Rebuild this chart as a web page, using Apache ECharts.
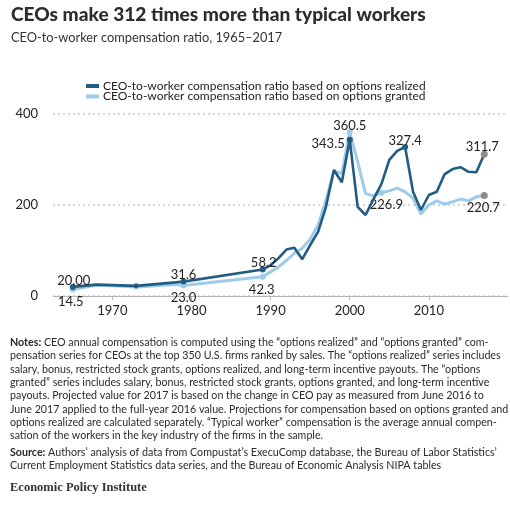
<!DOCTYPE html>
<html>
<head>
<meta charset="utf-8">
<script src="https://cdn.jsdelivr.net/npm/echarts@6/dist/echarts.min.js"></script>
<style>
  html, body { margin: 0; padding: 0; background: #fff; }
  #chart { width: 510px; height: 506px; }
</style>
</head>
<body>
<div id="chart"></div>
<script>
// years with data (early years are sparse, annual from 1989)
const years = [1965, 1968, 1973, 1978, 1979,
  1989, 1990, 1991, 1992, 1993, 1994, 1995, 1996, 1997, 1998, 1999,
  2000, 2001, 2002, 2003, 2004, 2005, 2006, 2007, 2008, 2009,
  2010, 2011, 2012, 2013, 2014, 2015, 2016, 2017];
// options realized
const realized = [20.0, 25, 22.3, 30, 31.6,
  58.2, 68, 83, 102, 106, 81, 112, 141, 196, 277, 250,
  343.5, 196, 178, 213, 246, 299, 319, 327.4, 229, 189,
  222, 229, 268, 279, 283, 273, 272, 311.7];
// options granted
const granted = [14.5, 24, 20, 25, 23.0,
  42.3, 53, 64, 78, 94, 105, 125, 156, 211, 275, 269,
  360.5, 295, 225, 220, 226.9, 231, 237, 229, 215, 180,
  200, 209, 202, 207, 213, 209, 218, 220.7];
const xTicks = [1970, 1980, 1990, 2000, 2010];
const seriesNames = [
  'CEO-to-worker compensation ratio based on options realized',
  'CEO-to-worker compensation ratio based on options granted'
];

const DARK = '#215d82', LIGHT = '#9fcbeb', GREY = '#8c8c8c';
const FONT = 'Lato';

// which points get a value label: year -> [position, distance, offset, text]
const realizedLabels = {
  1965: ['top', 0, [1, 3], '20.00'],
  1979: ['top', 0, [0, 3]],
  1989: ['top', 0, [1, 3]],
  2000: ['left', 2, [0, 4]],
  2007: ['top', 0, [0, 3]],
  2017: ['top', 0, [-2, 3]]
};
const grantedLabels = {
  1965: ['bottom', 3, [-2, 0]],
  1979: ['bottom', 3, [0, 0], '23.0'],
  1989: ['bottom', 4, [-1, 0]],
  2000: ['top', 0, [0, 3]],
  2004: ['bottom', 3, [5, 0]],
  2017: ['bottom', 2, [-1, 0]]
};

function buildData(vals, labels) {
  return years.map((y, i) => {
    const item = { value: [y, vals[i]] };
    const l = labels[y];
    if (l) {
      item.label = {
        show: true, position: l[0], distance: l[1], offset: l[2],
        formatter: l[3] || String(vals[i])
      };
      item.symbolSize = 6;
      if (y === 2017) { item.itemStyle = { color: GREY }; item.symbolSize = 7; }
    } else if (y === 1973) {
      item.symbolSize = 5;
    } else {
      item.symbolSize = 0;
    }
    return item;
  });
}

const chart = echarts.init(document.getElementById('chart'), null, { renderer: 'canvas' });

const notes = [
  '{b|Notes:} CEO annual compensation is computed using the “options realized” and “options granted” com-',
  'pensation series for CEOs at the top 350 U.S. firms ranked by sales. The “options realized” series includes',
  'salary, bonus, restricted stock grants, options realized, and long-term incentive payouts. The “options',
  'granted” series includes salary, bonus, restricted stock grants, options granted, and long-term incentive',
  'payouts. Projected value for 2017 is based on the change in CEO pay as measured from June 2016 to',
  'June 2017 applied to the full-year 2016 value. Projections for compensation based on options granted and',
  'options realized are calculated separately. “Typical worker” compensation is the average annual compen-',
  'sation of the workers in the key industry of the firms in the sample.'
].join('\n');
const source = [
  '{b|Source:} Authors’ analysis of data from Compustat’s ExecuComp database, the Bureau of Labor Statistics’',
  'Current Employment Statistics data series, and the Bureau of Economic Analysis NIPA tables'
].join('\n');

const NOTE_SIZE = 10.7;

const option = {
  backgroundColor: '#fff',
  animation: false,
  textStyle: { fontFamily: FONT },
  title: {
    text: 'CEOs make 312 times more than typical workers',
    subtext: 'CEO-to-worker compensation ratio, 1965–2017',
    left: 6, top: 0,
    itemGap: 7,
    textStyle: { fontFamily: FONT, fontSize: 19.1, fontWeight: 900, color: '#2d2d2d' },
    subtextStyle: { fontFamily: FONT, fontSize: 12.8, color: '#333' }
  },
  legend: {
    data: seriesNames,
    orient: 'vertical',
    left: 86, top: 80, padding: 0,
    itemGap: -1.5,
    itemWidth: 13, itemHeight: 4,
    icon: 'rect',
    textStyle: { fontFamily: FONT, fontSize: 12, lineHeight: 11.5, color: '#222', padding: [0, 0, 0, -1] }
  },
  grid: { left: 53, right: 2, top: 114, bottom: 210 },
  xAxis: {
    type: 'value', min: 1962.5, max: 2020,
    axisLine: { lineStyle: { color: '#b5b5b5', width: 1 } },
    axisTick: { show: true, customValues: xTicks, length: 4, lineStyle: { color: '#b5b5b5' } },
    axisLabel: {
      customValues: xTicks, color: '#222', fontSize: 13, margin: 8, fontFamily: FONT,
      formatter: v => String(v)
    },
    splitLine: { show: false }
  },
  yAxis: {
    type: 'value', min: 0, max: 400, interval: 200,
    axisLine: { show: false }, axisTick: { show: false },
    axisLabel: { color: '#222', fontSize: 13, margin: 15, fontFamily: FONT },
    splitLine: { lineStyle: { type: [2, 3], color: '#c9c9c9', width: 1.5 } }
  },
  series: [
    {
      name: seriesNames[1], type: 'line', z: 2,
      data: buildData(granted, grantedLabels),
      symbol: 'circle', showAllSymbol: true,
      lineStyle: { color: LIGHT, width: 3 },
      itemStyle: { color: LIGHT },
      label: { color: '#222', fontSize: 13, fontFamily: FONT },
      emphasis: { disabled: true }
    },
    {
      name: seriesNames[0], type: 'line', z: 3,
      data: buildData(realized, realizedLabels),
      symbol: 'circle', showAllSymbol: true,
      lineStyle: { color: DARK, width: 2.6 },
      itemStyle: { color: DARK },
      label: { color: '#222', fontSize: 13, fontFamily: FONT },
      emphasis: { disabled: true }
    }
  ],
  graphic: [
    {
      type: 'text', left: 10, top: 336,
      style: {
        text: notes, fontFamily: FONT, fontSize: NOTE_SIZE, lineHeight: 13.3, fill: '#2a2a2a',
        rich: { b: { fontWeight: 'bold', fontFamily: FONT, fontSize: NOTE_SIZE, fill: '#2a2a2a' } }
      }
    },
    {
      type: 'text', left: 10, top: 445.5,
      style: {
        text: source, fontFamily: FONT, fontSize: NOTE_SIZE, lineHeight: 13.3, fill: '#2a2a2a',
        rich: { b: { fontWeight: 'bold', fontFamily: FONT, fontSize: NOTE_SIZE, fill: '#2a2a2a' } }
      }
    },
    {
      type: 'text', left: 10, top: 481,
      style: {
        text: 'Economic Policy Institute',
        fontFamily: 'Liberation Serif', fontWeight: 'bold', fontSize: 12.5, fill: '#333'
      }
    }
  ]
};

chart.setOption(option);
</script>
</body>
</html>
